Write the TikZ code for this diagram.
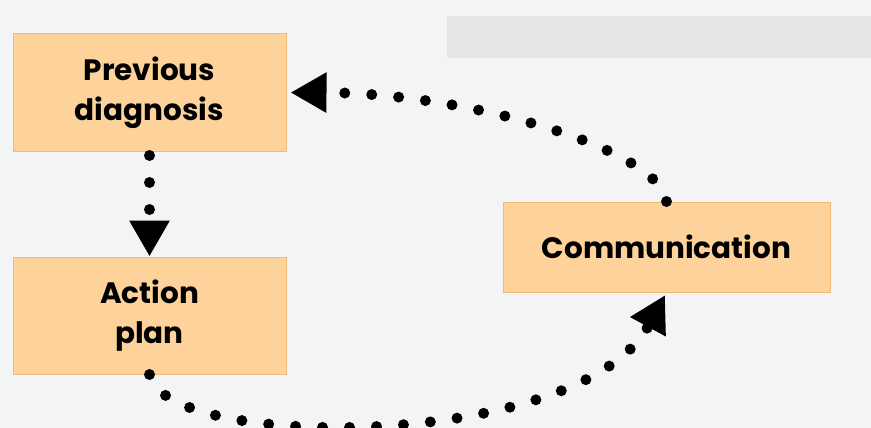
\documentclass[tikz,border=0pt]{standalone}
\usepackage{fontspec}
\setmainfont{Poppins}
\usetikzlibrary{arrows.meta, positioning}
\definecolor{boxfill}{RGB}{253,210,155}
\definecolor{boxline}{RGB}{242,186,116}
\definecolor{paper}{RGB}{243,244,246}
\definecolor{bandgray}{RGB}{231,231,233}
\tikzset {
    x=1pt, y=-1pt,
    stage/.style={rectangle, fill=boxfill, draw=boxline, line width=1pt,
        inner sep=0pt, align=center,
        font=\fontsize{29.5}{40}\selectfont\bfseries},
    dots/.style={line width=11pt, line cap=round,
        dash pattern=on 0pt off 27pt,
        -{Triangle[length=36pt, width=38pt]}}
}

\begin{document}
\begin{tikzpicture}
    % backdrop
    \fill[paper] (0,0) rectangle (871,428);
    \fill[bandgray] (447,16) rectangle (871,58);
    \useasboundingbox (0,0) rectangle (871,428);

    \node[stage, minimum width=273pt, minimum height=117pt] (prev) at (149.5,92.5) {Previous\\diagnosis};
    \node[stage, minimum width=273pt, minimum height=117pt] (action) at (149.5,315.5) {Action\\plan};
    \node[stage, minimum width=327pt, minimum height=90pt] (comm) at (666.5,247) {Communication};

    \draw[dots, shorten <=4pt] (prev.south) -- (action.north);
    \draw[dots, shorten >=3pt] (action.south) .. controls (165,452) and (580,452) .. (comm.south);
    \draw[dots, shorten >=4pt] (comm.north) .. controls (660,150) and (470,93) .. (prev.east);
\end{tikzpicture}
\end{document}
